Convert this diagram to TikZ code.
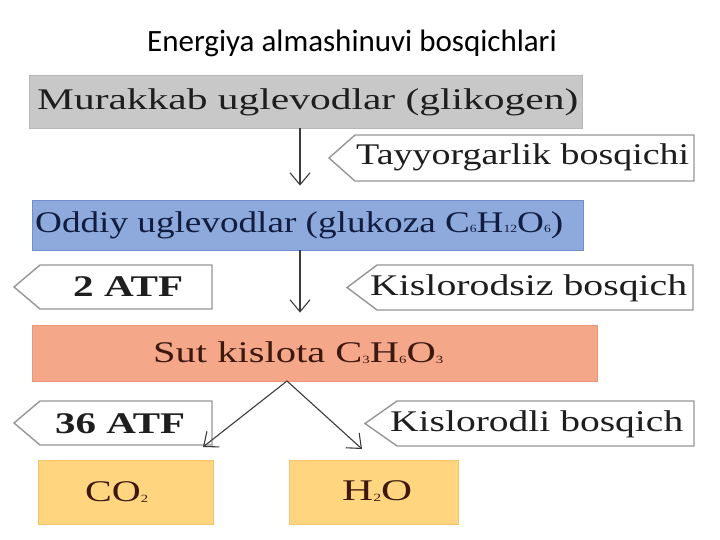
\documentclass[tikz,border=0pt]{standalone}
\usepackage{fontspec}
\usepackage{graphicx}
\setmainfont{Liberation Serif}
\newfontfamily\titlefont{Carlito}
\usetikzlibrary{arrows.meta}
\definecolor{gfill}{RGB}{200,200,200}
\definecolor{gdraw}{RGB}{182,182,182}
\definecolor{bfill}{RGB}{142,169,219}
\definecolor{bdraw}{RGB}{112,142,204}
\definecolor{sfill}{RGB}{245,167,138}
\definecolor{sdraw}{RGB}{236,150,118}
\definecolor{yfill}{RGB}{255,213,128}
\definecolor{ydraw}{RGB}{246,196,104}
\definecolor{cdraw}{RGB}{150,150,150}
\definecolor{txt}{RGB}{30,30,30}
\definecolor{btxt}{RGB}{16,28,64}
\definecolor{stxt}{RGB}{60,24,14}
\definecolor{arrc}{RGB}{60,60,60}
\newcommand{\wtext}[2]{\resizebox{#1}{\height}{#2}}
\newcommand{\chsub}[1]{\raisebox{-1pt}{\fontsize{11}{11}\selectfont #1}}
\tikzset{
  boxnode/.style={rectangle, inner sep=0pt, line width=0.8pt},
  lbl/.style={anchor=base west, inner sep=0pt, text=txt, font=\fontsize{30}{36}\selectfont},
  blbl/.style={lbl, font=\fontsize{30}{36}\selectfont\bfseries},
  cbox/.style={draw=cdraw, fill=white, line width=1.4pt, line join=miter},
  arr/.style={draw=arrc, line width=1.1pt, -{Straight Barb[length=12pt,width=20pt,line width=1.1pt]}}
}
\begin{document}
\begin{tikzpicture}[x=1pt,y=-1pt]
\path[use as bounding box, fill=white] (0,0) rectangle (720,540);
% title
\node[anchor=base, inner sep=0pt, font=\titlefont\fontsize{31}{36}\selectfont] (title) at (352,52) {Energiya almashinuvi bosqichlari};
% boxes
\node[boxnode, fill=gfill, draw=gdraw, minimum width=553pt, minimum height=53pt] (b1) at (305.5,101.5) {};
\node[boxnode, fill=bfill, draw=bdraw, minimum width=551pt, minimum height=50pt] (b2) at (307.5,225) {};
\node[boxnode, fill=sfill, draw=sdraw, minimum width=565pt, minimum height=56pt] (b3) at (314.5,353) {};
\node[boxnode, fill=yfill, draw=ydraw, minimum width=175pt, minimum height=64pt] (b4) at (125.5,492) {};
\node[boxnode, fill=yfill, draw=ydraw, minimum width=169pt, minimum height=64pt] (b5) at (373.5,492) {};
% box texts
\node[lbl] (t1) at (37,110) {\wtext{541pt}{Murakkab uglevodlar (glikogen)}};
\node[lbl, text=btxt] (t2) at (35,232) {\wtext{528pt}{Oddiy uglevodlar (glukoza C\chsub{6}H\chsub{12}O\chsub{6})}};
\node[lbl, text=stxt] (t3) at (153,362) {\wtext{290pt}{Sut kislota C\chsub{3}H\chsub{6}O\chsub{3}}};
\node[lbl, text=stxt] (t4) at (85,501) {\wtext{63pt}{CO\chsub{2}}};
\node[lbl, text=stxt] (t5) at (342,500) {\wtext{70pt}{H\chsub{2}O}};
% callouts
\draw[cbox] (329,158) -- (355,135) -- (694,135) -- (694,181) -- (355,181) -- cycle;
\draw[cbox] (14,287) -- (40,265) -- (212,265) -- (212,309) -- (40,309) -- cycle;
\draw[cbox] (347,287.5) -- (377,265) -- (693,265) -- (693,310) -- (377,310) -- cycle;
\draw[cbox] (14,423) -- (40,401) -- (212,401) -- (212,445) -- (40,445) -- cycle;
\draw[cbox] (365,423.5) -- (397,401) -- (694,401) -- (694,446) -- (397,446) -- cycle;
\node[lbl] (c1) at (356,165) {\wtext{333pt}{Tayyorgarlik bosqichi}};
\node[blbl] (c2) at (73,296) {\wtext{110pt}{2 ATF}};
\node[lbl] (c3) at (370,295) {\wtext{317pt}{Kislorodsiz bosqich}};
\node[blbl] (c4) at (55,433) {\wtext{130pt}{36 ATF}};
\node[lbl] (c5) at (390,431) {\wtext{293pt}{Kislorodli bosqich}};
% arrows
\coordinate (axis) at (300,0);
\coordinate (split) at (287,381);
\coordinate (e1) at (203,447);
\coordinate (e2) at (362,449);
\draw[arr, shorten >=14pt] (b1.south -| axis) -- (axis |- b2.north);
\draw[arr, shorten >=12pt] (b2.south -| axis) -- (axis |- b3.north);
\draw[arr] (split) -- (e1);
\draw[arr] (split) -- (e2);
\end{tikzpicture}
\end{document}
